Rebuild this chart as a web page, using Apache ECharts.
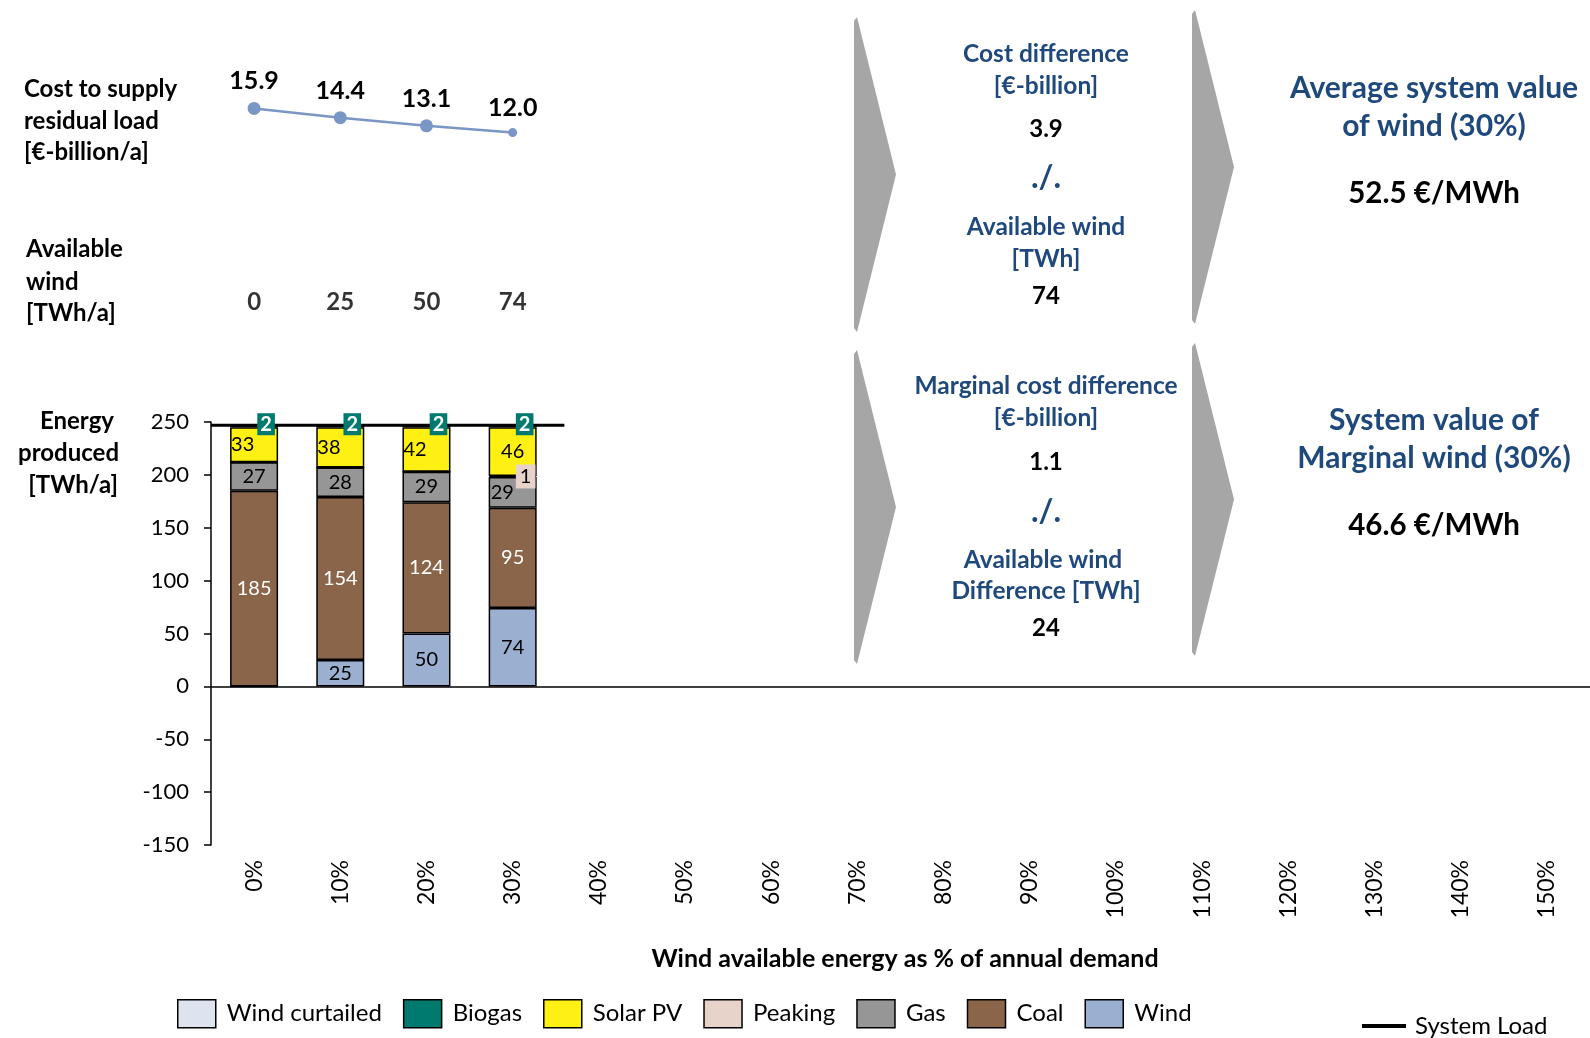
<!DOCTYPE html>
<html>
<head>
<meta charset="utf-8">
<script src="https://cdn.jsdelivr.net/npm/echarts@6.0.0/dist/echarts.min.js"></script>
<style>
  html, body { margin: 0; padding: 0; background: #fff; }
  #chart { width: 1590px; height: 1038px; }
</style>
</head>
<body>
<div id="chart"></div>
<script>
// categories: wind share of annual demand
const categories = ['0%', '10%', '20%', '30%', '40%', '50%', '60%', '70%', '80%',
  '90%', '100%', '110%', '120%', '130%', '140%', '150%']

// energy produced [TWh/a], one value per simulated scenario
const wind = [0, 25, 50, 74]
const coal = [185, 154, 124, 95]
const gas = [27, 28, 29, 29]
const peaking = [0, 0, 0, 1]
const solarPV = [33, 38, 42, 46]
const biogas = [2, 2, 2, 2]
const windCurtailed = [0, 0, 0, 0]
const systemLoad = [247, 247, 247, 247]

// cost to supply residual load [€-billion/a] and available wind [TWh/a]
const costResidual = [15.9, 14.4, 13.1, 12.0]
const availableWind = [0, 25, 50, 74]

const yTicks = { min: -150, max: 250, interval: 50 }

const FONT = 'Lato'
const BLUE = '#1F497D'

const chart = echarts.init(document.getElementById('chart'))

function hideZero(p) {
  return p.value ? String(p.value) : ''
}

// bar item with optional label tweak
function items(values, tweak) {
  return values.map((v, i) => {
    const t = tweak && tweak[i]
    return t ? { value: v, label: t } : v
  })
}

function barSeries(name, color, values, labelColor, tweak, extra) {
  return Object.assign({
    name,
    type: 'bar',
    stack: 'gen',
    barWidth: 48,
    xAxisIndex: 0,
    yAxisIndex: 0,
    z: 3,
    itemStyle: { color, borderColor: '#000', borderWidth: 1.5 },
    label: {
      show: true,
      position: 'inside',
      color: labelColor,
      fontFamily: FONT,
      fontSize: 20,
      overflow: 'none',
      formatter: hideZero
    },
    data: items(values, tweak)
  }, extra || {})
}

function txt(x, y, text, size, color, bold, align) {
  return {
    type: 'text',
    x, y,
    style: {
      text,
      fill: color,
      font: (bold ? 'bold ' : '') + size + 'px ' + FONT,
      align: align || 'center',
      verticalAlign: 'middle'
    }
  }
}

function arrow(x, yTop, yBottom, depth) {
  const mid = (yTop + yBottom) / 2
  return {
    type: 'polygon',
    shape: { points: [[x, yTop], [x + depth, mid], [x, yBottom], [x - 3, yBottom - 4], [x - 3, yTop + 4]] },
    style: { fill: '#A6A6A6' }
  }
}

const leftTexts = [
  txt(24, 89, 'Cost to supply', 24, '#000', true, 'left'),
  txt(24, 121, 'residual load', 24, '#000', true, 'left'),
  txt(24, 152, '[€-billion/a]', 24, '#000', true, 'left'),
  txt(26, 249, 'Available', 24, '#000', true, 'left'),
  txt(26, 282, 'wind', 24, '#000', true, 'left'),
  txt(26, 313, '[TWh/a]', 24, '#000', true, 'left'),
  txt(114, 421, 'Energy', 24, '#000', true, 'right'),
  txt(119, 453, 'produced', 24, '#000', true, 'right'),
  txt(118, 485, '[TWh/a]', 24, '#000', true, 'right')
]

const rightTexts = [
  txt(1046, 54, 'Cost difference', 24.5, BLUE, true),
  txt(1046, 86, '[€-billion]', 24.5, BLUE, true),
  txt(1046, 129, '3.9', 24, '#000', true),
  txt(1046, 178, './.', 32, BLUE, true),
  txt(1046, 227, 'Available wind', 24.5, BLUE, true),
  txt(1046, 259, '[TWh]', 24.5, BLUE, true),
  txt(1046, 296, '74', 24, '#000', true),
  txt(1434, 88, 'Average system value', 30, BLUE, true),
  txt(1434, 126, 'of wind (30%)', 30, BLUE, true),
  txt(1434, 193, '52.5 €/MWh', 29.5, '#000', true),

  txt(1046, 386, 'Marginal cost difference', 24.5, BLUE, true),
  txt(1046, 418, '[€-billion]', 24.5, BLUE, true),
  txt(1046, 462, '1.1', 24, '#000', true),
  txt(1046, 512, './.', 32, BLUE, true),
  txt(1043, 560, 'Available wind', 24.5, BLUE, true),
  txt(1046, 591, 'Difference [TWh]', 24.5, BLUE, true),
  txt(1046, 628, '24', 24, '#000', true),
  txt(1434, 420, 'System value of', 30, BLUE, true),
  txt(1434, 458, 'Marginal wind (30%)', 30, BLUE, true),
  txt(1434, 525, '46.6 €/MWh', 29.5, '#000', true),

  txt(905, 959, 'Wind available energy as % of annual demand', 25, '#000', true)
]

const option = {
  animation: false,
  backgroundColor: '#fff',
  textStyle: { fontFamily: FONT },
  grid: [
    { left: 211, right: 0, top: 422, height: 423 },
    { left: 211, right: 0, top: 83, height: 124 },
    { left: 211, right: 0, top: 290, height: 24 }
  ],
  xAxis: [
    {
      type: 'category',
      gridIndex: 0,
      data: categories,
      axisLine: { show: false },
      axisTick: { show: false },
      axisLabel: { rotate: 90, margin: 15, fontSize: 23, color: '#000', fontFamily: FONT }
    },
    { type: 'value', gridIndex: 0, min: -0.5, max: categories.length - 0.5, show: false },
    { type: 'category', gridIndex: 1, data: categories, show: false },
    { type: 'category', gridIndex: 2, data: categories, show: false }
  ],
  yAxis: [
    {
      type: 'value',
      gridIndex: 0,
      min: yTicks.min,
      max: yTicks.max,
      interval: yTicks.interval,
      splitLine: { show: false },
      axisLine: { show: true, onZero: false, lineStyle: { color: '#000', width: 1.5 } },
      axisTick: { show: true, length: 7, lineStyle: { color: '#000', width: 1.5 } },
      axisLabel: { fontSize: 22, color: '#000', margin: 22, fontFamily: FONT }
    },
    { type: 'value', gridIndex: 1, min: 0, max: 20, show: false },
    { type: 'value', gridIndex: 2, min: 0, max: 1, show: false }
  ],
  legend: [
    {
      left: 177,
      top: 999,
      padding: 0,
      itemWidth: 38,
      itemHeight: 28,
      itemGap: 21,
      icon: 'rect',
      itemStyle: { borderColor: '#000', borderWidth: 1.5 },
      textStyle: { fontSize: 24, color: '#000', fontFamily: FONT, padding: [0, 0, 0, 6] },
      data: ['Wind curtailed', 'Biogas', 'Solar PV', 'Peaking', 'Gas', 'Coal', 'Wind']
    },
    {
      left: 1362,
      top: 1014,
      padding: 0,
      itemWidth: 44,
      itemHeight: 4,
      icon: 'rect',
      textStyle: { fontSize: 24, color: '#000', fontFamily: FONT, padding: [0, 0, 0, 4] },
      data: ['System Load']
    }
  ],
  graphic: [
    arrow(857, 17, 332, 39),
    arrow(1195, 10, 324, 39),
    arrow(857, 350, 664, 39),
    arrow(1195, 343, 656, 39)
  ].concat(leftTexts, rightTexts),
  series: [
    barSeries('Wind', '#9BB0D0', wind, '#000', null, {
      markLine: {
        silent: true,
        symbol: ['none', 'none'],
        label: { show: false },
        lineStyle: { color: '#000', width: 1.5, type: 'solid' },
        data: [{ yAxis: 0 }]
      }
    }),
    barSeries('Coal', '#8B6549', coal, '#fff'),
    barSeries('Gas', '#969696', gas, '#000', [null, null, null, { position: 'insideLeft', distance: 2 }]),
    barSeries('Peaking', '#E8D3CB', peaking, '#000', [null, null, null, {
      position: 'inside', offset: [13, 0], backgroundColor: '#E8D3CB', padding: [2, 4]
    }], { z: 4 }),
    barSeries('Solar PV', '#FFF014', solarPV, '#000', [
      { position: 'insideLeft', distance: 1 },
      { position: 'insideLeft', distance: 1 },
      { position: 'insideLeft', distance: 1 },
      null
    ]),
    barSeries('Biogas', '#007A6E', biogas, '#fff', null, {
      label: {
        show: true,
        position: 'inside',
        offset: [12, -2],
        color: '#fff',
        fontFamily: FONT,
        fontSize: 20,
        fontWeight: 'bold',
        overflow: 'none',
        backgroundColor: '#007A6E',
        padding: [1, 3],
        formatter: hideZero
      }
    }),
    barSeries('Wind curtailed', '#DDE4F0', windCurtailed, '#000'),
    {
      name: 'System Load',
      type: 'line',
      xAxisIndex: 1,
      yAxisIndex: 0,
      z: 1,
      symbol: 'none',
      itemStyle: { color: '#000' },
      lineStyle: { color: '#000', width: 3 },
      data: [[-0.5, systemLoad[0]], [systemLoad.length - 0.4, systemLoad[systemLoad.length - 1]]]
    },
    {
      name: 'Cost to supply residual load',
      type: 'line',
      xAxisIndex: 2,
      yAxisIndex: 1,
      symbol: 'circle',
      symbolSize: (v, p) => (p.dataIndex === costResidual.length - 1 ? 9 : 13),
      itemStyle: { color: '#7A96C4' },
      lineStyle: { color: '#7A96C4', width: 2.5 },
      label: {
        show: true,
        position: 'top',
        distance: 8,
        color: '#000',
        fontFamily: FONT,
        fontSize: 25,
        fontWeight: 'bold',
        formatter: p => p.value.toFixed(1)
      },
      data: costResidual
    },
    {
      name: 'Available wind',
      type: 'scatter',
      xAxisIndex: 3,
      yAxisIndex: 2,
      symbolSize: 0,
      label: {
        show: true,
        position: 'inside',
        color: '#000',
        fontFamily: FONT,
        fontSize: 24,
        fontWeight: 'bold',
        formatter: p => String(availableWind[p.dataIndex])
      },
      data: availableWind.map((v, i) => [i, 0.5])
    }
  ]
}

chart.setOption(option)
</script>
</body>
</html>
